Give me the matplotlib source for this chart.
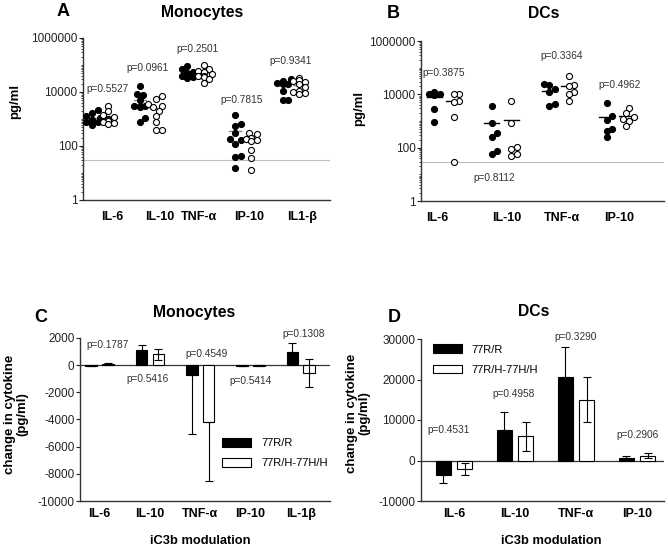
import numpy as np
import matplotlib
matplotlib.use('Agg')
import matplotlib.pyplot as plt
from matplotlib.patches import Patch
from matplotlib.ticker import FixedLocator, LogLocator, NullFormatter

plt.rcParams['font.family'] = ['Liberation Sans', 'DejaVu Sans']

# --- A: monocytes, cytokine (pg/ml), 77R/R (filled) vs 77R/H-77H/H (open)
mono_cats = ['IL-6', 'IL-10', 'TNF-α', 'IP-10', 'IL1-β']
mono_rr = [
    [2100, 1600, 1300, 1100, 950, 900, 850, 800, 750, 600],
    [17000, 8500, 7500, 4900, 3000, 3000, 3000, 2800, 1100, 800],
    [90000, 70000, 55000, 50000, 45000, 45000, 40000, 38000, 35000, 32000],
    [1400, 670, 530, 300, 175, 170, 120, 44, 40, 15],
    [30000, 25000, 22000, 22000, 21000, 20000, 20000, 10500, 5000, 5000],
]
mono_rh = [
    [3000, 1900, 1450, 1200, 1000, 920, 850, 800, 700, 660],
    [7000, 5500, 3500, 3000, 2700, 2000, 1300, 800, 400, 380],
    [100000, 70000, 60000, 55000, 45000, 40000, 38000, 35000, 30000, 22000],
    [300, 280, 200, 190, 175, 160, 155, 72, 36, 13],
    [32000, 28000, 26000, 24000, 20000, 15000, 11000, 10000, 9000, 8500],
]
mono_p = ['p=0.5527', 'p=0.0961', 'p=0.2501', 'p=0.7815', 'p=0.9341']

# --- B: DCs
dc_cats = ['IL-6', 'IL-10', 'TNF-α', 'IP-10']
dc_rr = [
    [12000, 11000, 10000, 10000, 9500, 2800, 950],
    [3500, 860, 340, 245, 73, 60],
    [24000, 22000, 16000, 12500, 4200, 3800],
    [4600, 1500, 1050, 500, 430, 260],
]
dc_rh = [
    [10500, 10000, 5500, 5000, 1400, 28],
    [5600, 810, 105, 87, 57, 48],
    [50000, 22000, 21000, 12500, 10000, 5600],
    [3000, 2000, 1400, 1200, 1000, 640],
]
dc_p = ['p=0.3875', 'p=0.8112', 'p=0.3364', 'p=0.4962']

detect_limit = 30

# --- C / D: change in cytokine after iC3b (mean, SEM)
chg_mono_cats = ['IL-6', 'IL-10', 'TNF-α', 'IP-10', 'IL-1β']
chg_mono_rr = [-40, 1100, -750, -30, 950]
chg_mono_rr_err = [40, 400, 4350, 20, 650]
chg_mono_rh = [120, 800, -4200, -30, -570]
chg_mono_rh_lo = [50, 400, 4300, 20, 1030]
chg_mono_rh_hi = [50, 400, 0, 20, 1030]
chg_mono_p = ['p=0.1787', 'p=0.5416', 'p=0.4549', 'p=0.5414', 'p=0.1308']

chg_dc_cats = ['IL-6', 'IL-10', 'TNF-α', 'IP-10']
chg_dc_rr = [-3500, 7500, 20700, 600]
chg_dc_rr_err = [2100, 4400, 7400, 500]
chg_dc_rh = [-2000, 6000, 15000, 1200]
chg_dc_rh_err = [1500, 3600, 5600, 600]
chg_dc_p = ['p=0.4531', 'p=0.4958', 'p=0.3290', 'p=0.2906']

groups = ['77R/R', '77R/H-77H/H']

W, H = 668, 548
fig = plt.figure(figsize=(W / 100, H / 100), dpi=100)


def px_axes(l, t, r, b):
    return fig.add_axes([l / W, 1 - b / H, (r - l) / W, (b - t) / H])


def style_axes(ax):
    for s in ['top', 'right']:
        ax.spines[s].set_visible(False)
    for s in ['left', 'bottom']:
        ax.spines[s].set_linewidth(1.0)
        ax.spines[s].set_color('#333333')
    ax.tick_params(axis='y', labelsize=8.5, length=3, width=0.8, pad=1,
                   colors='#222222')
    ax.tick_params(axis='x', length=0, labelsize=9, pad=8)
    for lab in ax.get_xticklabels():
        lab.set_fontweight('bold')


def swarm_x(ax, x0, vals, diam=6.2, max_px=10):
    # simple beeswarm: spread points that would overlap at the same height,
    # some overlap allowed (like the original scatter dot plots)
    tr = ax.transData
    ys = tr.transform(np.column_stack([np.full(len(vals), x0), vals]))[:, 1]
    ppu = tr.transform((1, 1))[0] - tr.transform((0, 1))[0]
    order = np.argsort(ys)
    placed = []
    offs = np.zeros(len(vals))
    step = diam * 0.45
    mind = diam * 0.85
    for i in order:
        best = None
        for k in range(0, 30):
            dx = ((k + 1) // 2) * step * (1 if k % 2 else -1)
            if abs(dx) > max_px:
                continue
            ok = all((dx - px) ** 2 + (ys[i] - py) ** 2 >= mind ** 2
                     for px, py in placed)
            if ok:
                best = dx
                break
        if best is None:
            best = 0.0
        placed.append((best, ys[i]))
        offs[i] = best
    return x0 + offs / ppu


def dot_panel(ax, cats, rr, rh, pvals, xlim, lab_shift, p_pos, mean_col):
    ax.set_yscale('log')
    ax.set_ylim(1, 1e6)
    ax.set_xlim(*xlim)
    ax.axhline(detect_limit, color='#bdbdbd', lw=0.8, zorder=0)
    for i in range(len(cats)):
        for vals, xc, fc in [(rr[i], i - 0.17, 'black'), (rh[i], i + 0.17, 'white')]:
            xs = swarm_x(ax, xc, vals)
            ax.scatter(xs, vals, s=19, facecolor=fc, edgecolor='black',
                       linewidth=0.8, zorder=3)
            m = np.mean(vals)
            ax.plot([xc - 0.13, xc + 0.13], [m, m], color=mean_col, lw=1.0, zorder=2)
        px, py = p_pos[i]
        ax.text(i + px, 10 ** py, pvals[i], ha='center', va='center',
                fontsize=7.3, color='#333333')
    ax.set_xticks([i + s for i, s in enumerate(lab_shift)])
    ax.set_xticklabels(cats)
    ax.yaxis.set_major_locator(FixedLocator([1, 100, 1e4, 1e6]))
    ax.yaxis.set_minor_locator(LogLocator(base=10, subs=np.arange(1, 10), numticks=50))
    ax.yaxis.set_minor_formatter(NullFormatter())
    ax.set_yticklabels(['1', '100', '10000', '1000000'])
    ax.tick_params(axis='y', which='minor', length=1.8, width=0.5)
    style_axes(ax)


def bar_panel(ax, cats, rr, rr_err, rh, rh_lo, rh_hi, pvals, xlim, ylim,
              yticks, off, bw, p_pos):
    x = np.arange(len(cats))
    ax.set_xlim(*xlim)
    ax.set_ylim(*ylim)
    rr = np.array(rr)
    lo = np.where(rr < 0, rr_err, 0)
    hi = np.where(rr >= 0, rr_err, 0)
    ax.bar(x - off, rr, bw, color='black', edgecolor='black', lw=0.8, zorder=2)
    ax.errorbar(x - off, rr, yerr=[lo, hi], fmt='none', ecolor='black',
                elinewidth=0.8, capsize=3, capthick=0.8, zorder=3)
    ax.bar(x + off, rh, bw, color='white', edgecolor='black', lw=0.8, zorder=2)
    ax.errorbar(x + off, rh, yerr=[rh_lo, rh_hi], fmt='none', ecolor='black',
                elinewidth=0.8, capsize=3, capthick=0.8, zorder=3)
    ax.axhline(0, color='#333333', lw=0.9, zorder=1)
    for i in range(len(cats)):
        px, py = p_pos[i]
        ax.text(i + px, py, pvals[i], ha='center', va='center', fontsize=7.3,
                color='#333333', clip_on=False)
    ax.set_yticks(yticks)
    ax.set_yticklabels([str(v) for v in yticks])
    ax.set_xticks(x)
    ax.set_xticklabels(cats)
    style_axes(ax)
    ax.tick_params(axis='x', pad=5)


# A
axA = px_axes(83, 38, 330, 200)
dot_panel(axA, mono_cats, mono_rr, mono_rh, mono_p, (-0.36, 4.82),
          [0.25, 0.25, 0.08, 0.13, 0.23],
          [(0.15, 4.11), (0.0, 4.89), (0.04, 5.59), (-0.04, 3.7), (0.0, 5.15)],
          '#888888')
# B
axB = px_axes(421, 41, 664, 201)
dot_panel(axB, dc_cats, dc_rr, dc_rh, dc_p, (-0.4, 3.83),
          [-0.12, 0.09, 0.05, 0.05],
          [(0.0, 4.79), (-0.12, 0.86), (0.05, 5.43), (0.05, 4.34)],
          'black')

# C
axC = px_axes(80, 338, 330, 501)
bar_panel(axC, chg_mono_cats, chg_mono_rr, chg_mono_rr_err, chg_mono_rh,
          chg_mono_rh_lo, chg_mono_rh_hi, chg_mono_p, (-0.39, 4.58),
          (-10000, 2000), list(range(2000, -10001, -2000)), 0.167, 0.23,
          [(0.15, 1470), (-0.04, -1050), (0.13, 800), (0.01, -1150), (0.06, 2280)])
hC = [Patch(facecolor='black', edgecolor='black', lw=0.8),
      Patch(facecolor='white', edgecolor='black', lw=0.8)]
axC.legend(hC, groups, loc='upper left', bbox_to_anchor=(0.56, 0.40),
           frameon=False, fontsize=8, handlelength=2.6, handleheight=0.8,
           labelspacing=0.9, borderaxespad=0, borderpad=0.2, handletextpad=0.9)

# D
axD = px_axes(421, 339, 664, 501)
bar_panel(axD, chg_dc_cats, chg_dc_rr, chg_dc_rr_err, chg_dc_rh,
          chg_dc_rh_err, chg_dc_rh_err, chg_dc_p, (-0.54, 3.44),
          (-10000, 30000), [30000, 20000, 10000, 0, -10000], 0.175, 0.245,
          [(-0.08, 7650), (-0.02, 16300), (0.0, 30500), (0.0, 6250)])
axD.legend(hC, groups, loc='upper left', bbox_to_anchor=(0.04, 0.98),
           frameon=False, fontsize=8, handlelength=2.6, handleheight=0.8,
           labelspacing=0.9, borderaxespad=0, borderpad=0.2, handletextpad=0.9)

# panel letters and titles
for txt, x, y in [('A', 63, 12), ('B', 393, 13), ('C', 41, 317), ('D', 394, 317)]:
    fig.text(x / W, 1 - y / H, txt, fontsize=13, fontweight='bold',
             ha='center', va='center')
for txt, x, y in [('Monocytes', 202, 12), ('DCs', 544, 13),
                  ('Monocytes', 194, 312), ('DCs', 534, 312)]:
    fig.text(x / W, 1 - y / H, txt, fontsize=11.3, fontweight='bold',
             ha='center', va='center')

# y labels
fig.text(15 / W, 1 - 101 / H, 'pg/ml', rotation=90, fontsize=9.5,
         fontweight='bold', ha='center', va='center')
fig.text(359 / W, 1 - 108 / H, 'pg/ml', rotation=90, fontsize=9.5,
         fontweight='bold', ha='center', va='center')
fig.text(16 / W, 1 - 414 / H, 'change in cytokine\n(pg/ml)', rotation=90,
         fontsize=9.5, fontweight='bold', ha='center', va='center',
         linespacing=1.1)
fig.text(358 / W, 1 - 413 / H, 'change in cytokine\n(pg/ml)', rotation=90,
         fontsize=9.5, fontweight='bold', ha='center', va='center',
         linespacing=1.1)

# x labels
fig.text(200 / W, 1 - 541 / H, 'iC3b modulation', fontsize=9.3,
         fontweight='bold', ha='center', va='center')
fig.text(551 / W, 1 - 541 / H, 'iC3b modulation', fontsize=9.3,
         fontweight='bold', ha='center', va='center')

fig.savefig('out.png', dpi=100)
plt.close(fig)
